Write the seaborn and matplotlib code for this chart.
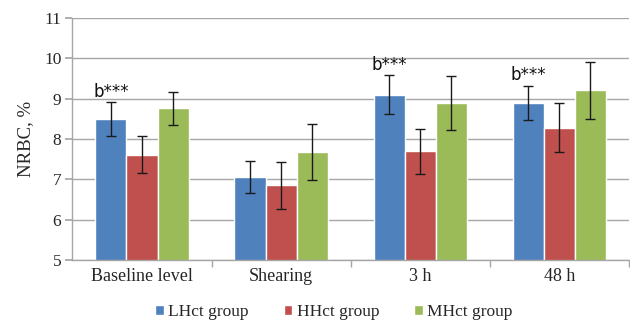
import numpy as np
import pandas as pd
import matplotlib
matplotlib.use("Agg")
import matplotlib.pyplot as plt
import seaborn as sns

categories = ["Baseline level", "Shearing", "3 h", "48 h"]
groups = ["LHct group", "HHct group", "MHct group"]
lhct = [8.50, 7.06, 9.10, 8.90]
hhct = [7.61, 6.85, 7.69, 8.28]
mhct = [8.76, 7.68, 8.89, 9.20]
lhct_err = [0.42, 0.40, 0.48, 0.42]
hhct_err = [0.46, 0.58, 0.55, 0.60]
mhct_err = [0.41, 0.70, 0.67, 0.71]
marks = ["b***", None, "b***", "b***"]

colors = ["#4F81BD", "#C0504D", "#9BBB59"]

sns.set_theme(style="white")
serif = ["Liberation Serif", "DejaVu Serif"]
plt.rcParams["font.family"] = serif

df = pd.DataFrame({
    "cat": categories * 3,
    "group": np.repeat(groups, len(categories)),
    "val": lhct + hhct + mhct,
    "err": lhct_err + hhct_err + mhct_err,
})

fig, ax = plt.subplots(figsize=(6.3, 3.26), dpi=100)
fig.subplots_adjust(left=0.115, right=0.998, top=0.945, bottom=0.203)

sns.barplot(data=df, x="cat", y="val", hue="group", order=categories,
            hue_order=groups, palette=colors, width=0.67, errorbar=None,
            saturation=1, ax=ax, zorder=2)

# error bars centred on each bar
for gi, g in enumerate(groups):
    sub = df[df["group"] == g]
    bars = ax.containers[gi]
    xs = [b.get_x() + b.get_width() / 2 for b in bars]
    ax.errorbar(xs, sub["val"].values, yerr=sub["err"].values, fmt="none",
                ecolor="#1a1a1a", elinewidth=1, capsize=3.5, capthick=1,
                zorder=3)

# significance labels above the LHct bars
for i, m in enumerate(marks):
    if m:
        b = ax.containers[0][i]
        x = b.get_x() + b.get_width() / 2
        ax.text(x, lhct[i] + lhct_err[i] + 0.03, m, ha="center", va="bottom",
                fontsize=12, family=["DejaVu Sans"], color="#111111")

ax.set_ylim(5, 11)
ax.set_yticks(range(5, 12))
ax.set_xlim(-0.5, 3.5)
ax.yaxis.grid(True, color="#a6a6a6", linewidth=1, zorder=0)
ax.set_axisbelow(True)
for s in ["top", "right"]:
    ax.spines[s].set_visible(False)
for s in ["left", "bottom"]:
    ax.spines[s].set_color("#a6a6a6")
    ax.spines[s].set_linewidth(1)

ax.set_xlabel("")
ax.set_ylabel("NRBC, %", fontsize=13.5, labelpad=7)
ax.tick_params(axis="y", labelsize=12.5, length=5, color="#a6a6a6", left=True,
               pad=3)
# category labels centred, tick marks between categories
ax.set_xticks(range(len(categories)))
ax.set_xticklabels(categories, fontsize=13)
ax.tick_params(axis="x", which="major", length=0, pad=6)
ax.set_xticks([0.5, 1.5, 2.5, 3.5], minor=True)
ax.tick_params(axis="x", which="minor", length=5, color="#a6a6a6", bottom=True)

ax.legend(loc="upper center", bbox_to_anchor=(0.47, -0.12), ncol=3,
          frameon=False, prop={"family": serif, "size": 12.5},
          handlelength=0.5, handleheight=0.5, handletextpad=0.25,
          columnspacing=2.0)

fig.savefig("out.png", dpi=100)
